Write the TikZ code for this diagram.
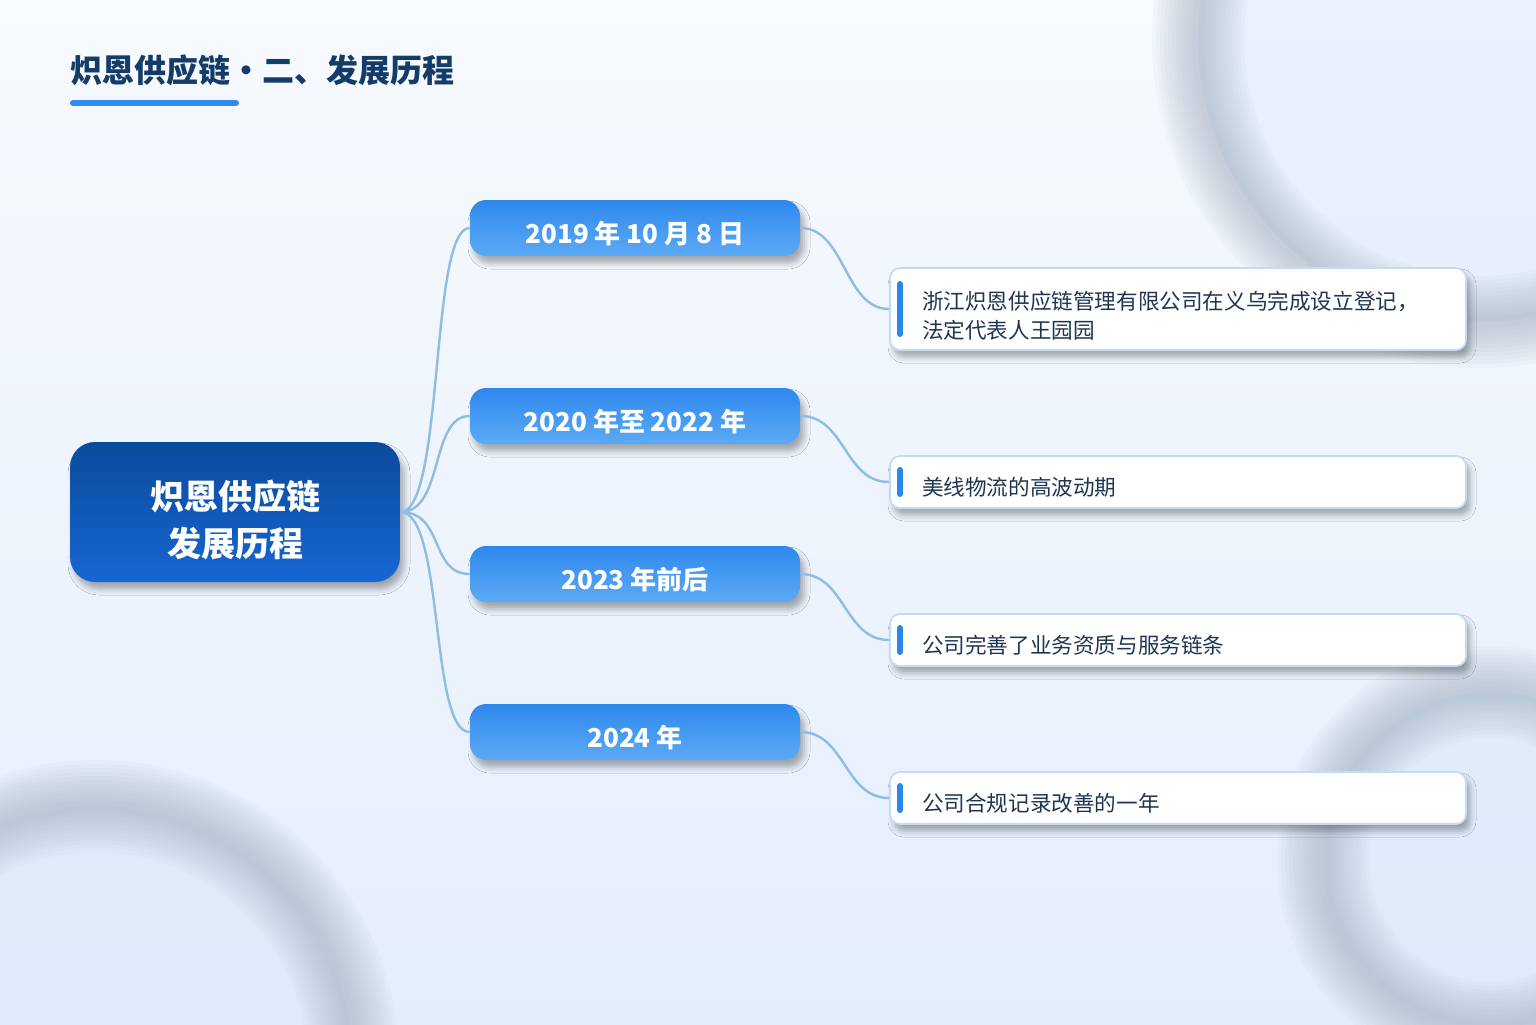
\documentclass[tikz,border=0pt]{standalone}
\usepackage{fontspec}
\setmainfont{Noto Sans CJK SC}
\usetikzlibrary{shadows.blur}
\definecolor{bgtop}{HTML}{F7FAFE}
\definecolor{bgbot}{HTML}{E4EEFB}
\definecolor{ringc}{HTML}{9DAABB}
\definecolor{ringin}{HTML}{D9E7FA}
\definecolor{titlec}{HTML}{143C68}
\definecolor{ulinec}{HTML}{2F8CF0}
\definecolor{maintop}{HTML}{0B4B9C}
\definecolor{mainbot}{HTML}{1666D3}
\definecolor{datetop}{HTML}{2E88EC}
\definecolor{datebot}{HTML}{5CAAF6}
\definecolor{connc}{HTML}{8FBCE6}
\definecolor{infoborder}{HTML}{C3DBF3}
\definecolor{infotext}{HTML}{1F3552}
\definecolor{accentc}{HTML}{2B86EE}
\newcommand\dnby[2]{\raisebox{-#1}[\height][\depth]{#2}}
\begin{document}
\begin{tikzpicture}[x=0.5pt,y=-0.5pt,
  softshadow/.style={blur shadow={shadow xshift=2pt, shadow yshift=-3.5pt, shadow blur radius=3pt, shadow opacity=32}},
  titletext/.style={font=\bfseries\fontsize{16}{19}\selectfont, text=titlec, inner sep=0pt},
  uline/.style={draw=ulinec, line width=3pt, line cap=round},
  mainbox/.style={minimum width=165pt, minimum height=70pt, rounded corners=12.5pt,
    top color=maintop, bottom color=mainbot, text=white,
    font=\bfseries\fontsize{17}{23.5}\selectfont, softshadow},
  datebox/.style={minimum width=165pt, minimum height=28pt, rounded corners=8pt,
    top color=datetop, bottom color=datebot, text=white,
    font=\bfseries\fontsize{13}{15}\selectfont, softshadow},
  infobox/.style={minimum width=288pt, rounded corners=5pt, fill=white,
    draw=infoborder, line width=0.9pt, text=infotext, align=left,
    text width=256pt, inner xsep=16pt, inner ysep=0pt,
    font=\fontsize{10.8}{14.5}\selectfont, softshadow},
  conn/.style={draw=connc, line width=1.2pt},
  accent/.style={draw=accentc, line width=3pt, line cap=round}]
\useasboundingbox (0,0) rectangle (1536,1024);
\shade[top color=bgtop, bottom color=bgbot] (0,0) rectangle (1536,1024);
% blurred background rings
\begin{scope}
  \clip (0,0) rectangle (1536,1024);
  \fill[ringin, opacity=0.45] (1480,40) circle (282);
  \fill[ringin, opacity=0.45] (96,1063) circle (257);
  \fill[ringin, opacity=0.45] (1491,860) circle (168);
  \foreach \w in {46,42,...,6} {
    \draw[ringc, line width=\w pt, opacity=0.06] (1480,40) circle (282);
    \draw[ringc, line width=\w pt, opacity=0.06] (96,1063) circle (257);
    \draw[ringc, line width=\w pt, opacity=0.06] (1491,860) circle (168);
  }
\end{scope}
% title
\node[titletext, anchor=west] (title) at (70,70) {炽恩供应链・二、发展历程};
\draw[uline] (73,103) -- (236,103);
% root
\node[mainbox] (root) at (235,512) {\dnby{6pt}{\begin{tabular}{@{}c@{}}炽恩供应链\\发展历程\end{tabular}}};
% date boxes
\node[datebox] (d1) at (635,228) {\dnby{2.75pt}{2019 年 10 月 8 日}};
\node[datebox] (d2) at (635,416) {\dnby{2.75pt}{2020 年至 2022 年}};
\node[datebox] (d3) at (635,574) {\dnby{2.75pt}{2023 年前后}};
\node[datebox] (d4) at (635,732) {\dnby{2.75pt}{2024 年}};
% info boxes
\node[infobox, minimum height=41pt] (r1) at (1178,309) {\dnby{4.5pt}{\begin{tabular}{@{}l@{}}浙江炽恩供应链管理有限公司在义乌完成设立登记，\\法定代表人王园园\end{tabular}}};
\node[infobox, minimum height=26pt] (r2) at (1178,482) {\dnby{2.5pt}{美线物流的高波动期}};
\node[infobox, minimum height=26pt] (r3) at (1178,640) {\dnby{2.5pt}{公司完善了业务资质与服务链条}};
\node[infobox, minimum height=26pt] (r4) at (1178,798) {\dnby{2.5pt}{公司合规记录改善的一年}};
% accent bars
\draw[accent] ([xshift=5.25pt,yshift=12.5pt]r1.west) -- ([xshift=5.25pt,yshift=-12.5pt]r1.west);
\foreach \r in {r2,r3,r4}
  \draw[accent] ([xshift=5.25pt,yshift=6pt]\r.west) -- ([xshift=5.25pt,yshift=-6pt]\r.west);
% connectors
\foreach \d in {d1,d2,d3,d4}
  \draw[conn] (root.east) .. controls +(44,0) and +(-40,0) .. (\d.west);
\draw[conn] (d1.east) .. controls +(45,0) and +(-45,0) .. (r1.west);
\draw[conn] (d2.east) .. controls +(45,0) and +(-45,0) .. (r2.west);
\draw[conn] (d3.east) .. controls +(45,0) and +(-45,0) .. (r3.west);
\draw[conn] (d4.east) .. controls +(45,0) and +(-45,0) .. (r4.west);
\end{tikzpicture}
\end{document}
